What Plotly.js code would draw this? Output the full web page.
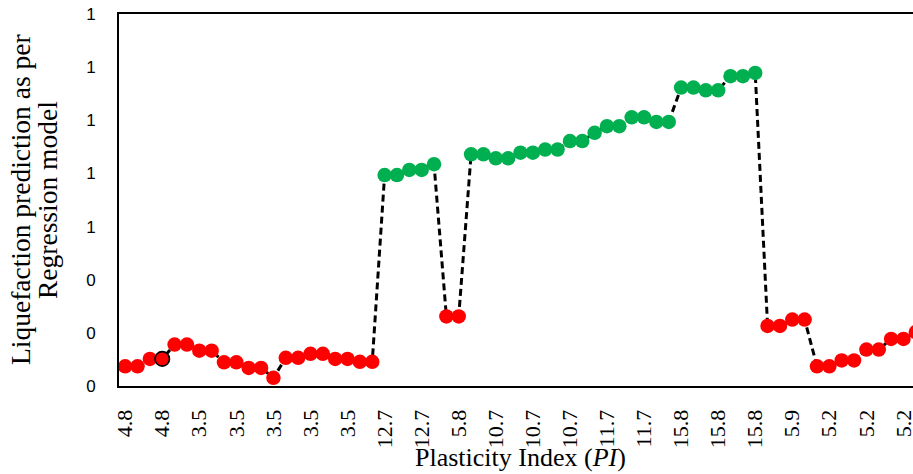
<!DOCTYPE html>
<html>
<head>
<meta charset="utf-8">
<script src="https://cdn.plot.ly/plotly-3.0.1.min.js"></script>
<style>
html,body{margin:0;padding:0;overflow:hidden;background:#fff;width:913px;height:474px;}
#chart{width:935px;height:474px;}
</style>
</head>
<body>
<div id="chart"></div>
<script>
// Liquefaction prediction (regression model) for each sample, in plot order
const predictionValues = [
  0.074, 0.074, 0.102, 0.102, 0.156, 0.156, 0.133, 0.133, 0.089, 0.089,
  0.068, 0.068, 0.031, 0.106, 0.106, 0.121, 0.121, 0.102, 0.102, 0.091,
  0.091, 0.794, 0.794, 0.813, 0.813, 0.835, 0.262, 0.262, 0.872, 0.872,
  0.857, 0.857, 0.878, 0.878, 0.890, 0.890, 0.922, 0.922, 0.953, 0.978,
  0.978, 1.011, 1.011, 0.994, 0.994, 1.123, 1.123, 1.113, 1.113, 1.166,
  1.166, 1.178, 0.226, 0.226, 0.250, 0.250, 0.074, 0.074, 0.096, 0.096,
  0.137, 0.137, 0.177, 0.177, 0.203
];
// Plasticity Index labels shown on the axis (every third sample)
const piTickLabels = [
  "4.8", "4.8", "3.5", "3.5", "3.5", "3.5", "3.5", "12.7", "12.7", "5.8", "10.7",
  "10.7", "10.7", "11.7", "11.7", "15.8", "15.8", "15.8", "5.9", "5.2", "5.2", "5.2"
];
const labelEvery = 3;
const highlightedSample = 3;
const threshold = 0.5;

const sampleIndex = predictionValues.map((v, i) => i);
const tickVals = piTickLabels.map((t, i) => i * labelEvery);
const markerColors = predictionValues.map(v => v >= threshold ? "#00B050" : "#FF0000");
const markerLineWidths = predictionValues.map((v, i) => i === highlightedSample ? 1.6 : 0);

const trace = {
  x: sampleIndex,
  y: predictionValues,
  type: "scatter",
  mode: "lines+markers",
  line: {color: "#000000", width: 3, dash: "7px,4px"},
  marker: {size: 14.5, color: markerColors, line: {color: "#000000", width: markerLineWidths}},
  hoverinfo: "x+y",
  showlegend: false
};

const plotLeft = 119, plotRightMargin = 13, figW = 935;
const plotW = figW - plotLeft - plotRightMargin;
const plotTop = 13.5, plotBottom = 386.5, figH = 474;
const plotH = plotBottom - plotTop;

const serif = "Liberation Serif, Times New Roman, serif";

const layout = {
  width: figW,
  height: figH,
  margin: {l: plotLeft, r: plotRightMargin, t: plotTop, b: figH - plotBottom, pad: 0},
  paper_bgcolor: "#ffffff",
  plot_bgcolor: "#ffffff",
  showlegend: false,
  xaxis: {
    range: [-0.5, predictionValues.length - 0.5],
    tickvals: tickVals,
    ticktext: piTickLabels,
    tickangle: -90,
    ticks: "",
    ticklabelstandoff: 13,
    showgrid: false,
    zeroline: false,
    showline: true,
    linecolor: "#000000",
    linewidth: 2,
    mirror: true,
    tickfont: {family: serif, size: 22, color: "#000000"},
    fixedrange: true
  },
  yaxis: {
    range: [0, 1.4],
    dtick: 0.2,
    tick0: 0,
    tickformat: ".0f",
    ticks: "",
    ticklabelstandoff: 18,
    showgrid: false,
    zeroline: false,
    showline: true,
    linecolor: "#000000",
    linewidth: 2,
    mirror: true,
    tickfont: {family: "Liberation Sans, Arial, sans-serif", size: 17, color: "#000000"},
    fixedrange: true
  },
  annotations: [
    {
      text: "Liquefaction prediction as per",
      xref: "paper", yref: "paper",
      x: (20 - plotLeft) / plotW, y: 0.5,
      xanchor: "center", yanchor: "middle",
      textangle: -90, showarrow: false,
      font: {family: serif, size: 27.5, color: "#000000"}
    },
    {
      text: "Regression model",
      xref: "paper", yref: "paper",
      x: (47 - plotLeft) / plotW, y: 0.5,
      xanchor: "center", yanchor: "middle",
      textangle: -90, showarrow: false,
      font: {family: serif, size: 27.5, color: "#000000"}
    },
    {
      text: "Plasticity Index (<i>PI</i>)",
      xref: "paper", yref: "paper",
      x: 0.5, y: -(458 - plotBottom) / plotH,
      xanchor: "center", yanchor: "middle",
      showarrow: false,
      font: {family: serif, size: 26, color: "#000000"}
    }
  ]
};

Plotly.newPlot("chart", [trace], layout, {displayModeBar: false, staticPlot: true});
</script>
</body>
</html>
